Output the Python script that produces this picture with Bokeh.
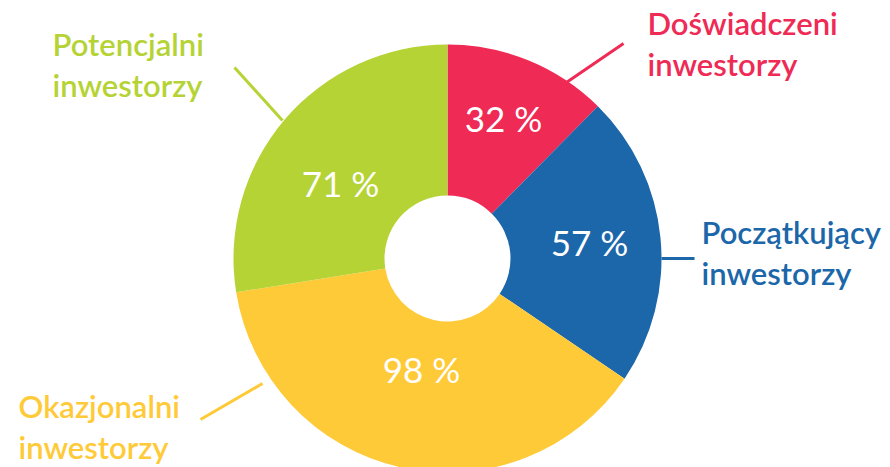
import numpy as np
from bokeh.plotting import figure
from bokeh.models import Range1d, ColumnDataSource
from bokeh.core.properties import value
from bokeh.embed import file_html
from bokeh.resources import INLINE

# ---- data ----
categories = ["Doświadczeni\ninwestorzy", "Początkujący\ninwestorzy",
              "Okazjonalni\ninwestorzy", "Potencjalni\ninwestorzy"]
values = [32, 57, 98, 71]
pct_labels = ["32 %", "57 %", "98 %", "71 %"]
colors = ["#EE2A55", "#1B67A9", "#FFCA38", "#B5D334"]

# ---- layout (image-pixel coordinates, y down -> negate) ----
W, H = 890, 467
cx, cy = 447, 258
r_out, r_in = 214, 63

vals = np.array(values, dtype=float)
cum = np.concatenate([[0], np.cumsum(vals)]) / vals.sum()
start = np.pi / 2 - 2 * np.pi * cum[:-1]
end = np.pi / 2 - 2 * np.pi * cum[1:]

p = figure(width=W, height=H, output_backend="svg", toolbar_location=None,
           x_range=Range1d(0, W), y_range=Range1d(-H, 0),
           min_border=0, x_axis_location=None, y_axis_location=None)
p.outline_line_color = None
p.xgrid.visible = False
p.ygrid.visible = False
p.background_fill_color = "white"
p.border_fill_color = "white"

src = ColumnDataSource(dict(start=start, end=end, color=colors))
p.annular_wedge(x=cx, y=-cy, inner_radius=r_in, outer_radius=r_out,
                start_angle="start", end_angle="end", direction="clock",
                fill_color="color", line_color=None, source=src)

# leader lines (layout)
lx0 = [560, 661, 262, 282]
ly0 = [86, 258, 383, 120]
lx1 = [623, 694, 200, 234]
ly1 = [43, 258, 419, 67]
p.segment(x0=lx0, y0=[-v for v in ly0], x1=lx1, y1=[-v for v in ly1],
          line_color=colors, line_width=3)

# category labels (layout positions)
tx = [647, 701, 18, 52]
ty = [43, 252, 426, 64]
p.text(x=tx, y=[-v for v in ty], text=categories, text_color=colors,
       text_font=value("Lato Semibold, Lato"), text_font_size="31px",
       text_align="left", text_baseline="alphabetic", text_line_height=1.08)

# percentage labels
px = [503, 589, 421, 340]
py = [117, 241, 368, 182]
p.text(x=px, y=[-v for v in py], text=pct_labels, text_color="white",
       text_font=value("Lato"), text_font_size="35px",
       text_align="center", text_baseline="alphabetic")

open("out.html", "w").write(file_html(p, INLINE))
